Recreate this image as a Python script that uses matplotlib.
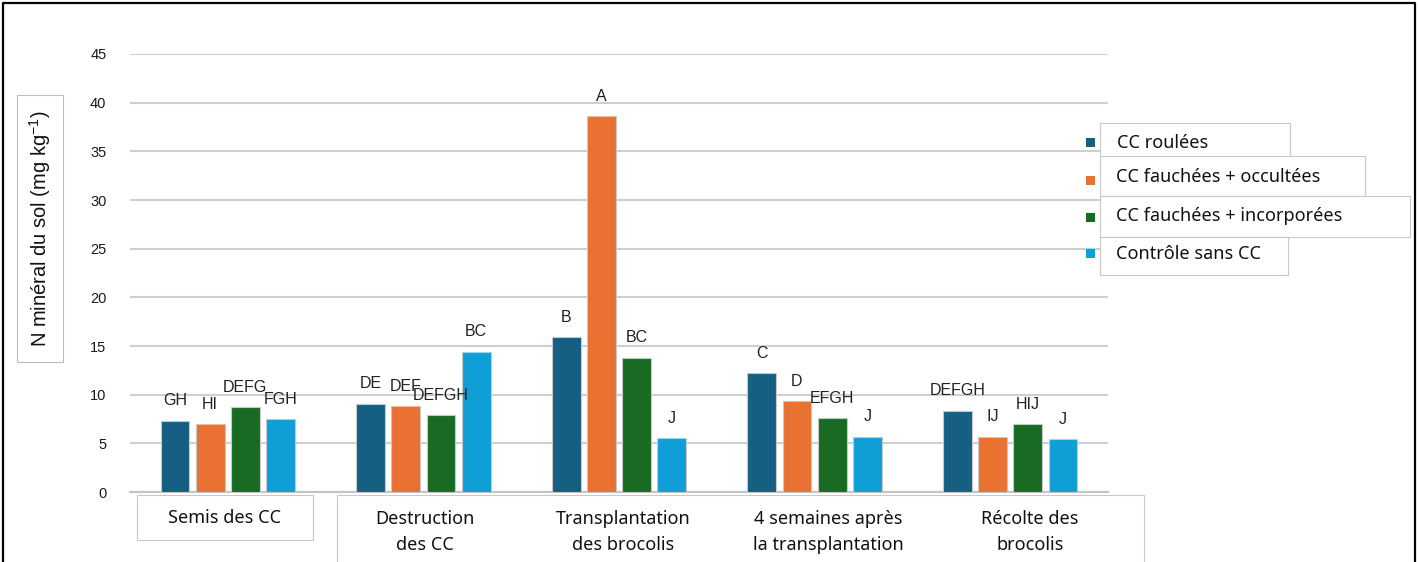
import matplotlib.pyplot as plt
from matplotlib.patches import Rectangle
import numpy as np

W, H = 1419, 562

stages = ['Semis des CC', 'Destruction\ndes CC', 'Transplantation\ndes brocolis',
          '4 semaines après\nla transplantation', 'Récolte des\nbrocolis']
series = ['CC roulées', 'CC fauchées + occultées', 'CC fauchées + incorporées', 'Contrôle sans CC']
colors = ['#156082', '#E97132', '#196B24', '#0F9ED5']

roulees = [7.3, 9.05, 15.9, 12.2, 8.35]
occultees = [6.95, 8.8, 38.6, 9.3, 5.7]
incorporees = [8.7, 7.9, 13.8, 7.6, 6.95]
controle = [7.5, 14.4, 5.55, 5.7, 5.45]

letters_roulees = ['GH', 'DE', 'B', 'C', 'DEFGH']
letters_occultees = ['HI', 'DEF', 'A', 'D', 'IJ']
letters_incorporees = ['DEFG', 'DEFGH', 'BC', 'EFGH', 'HIJ']
letters_controle = ['FGH', 'BC', 'J', 'J', 'J']

values = [roulees, occultees, incorporees, controle]
letters = [letters_roulees, letters_occultees, letters_incorporees, letters_controle]

plt.rcParams['mathtext.fontset'] = 'custom'
plt.rcParams['mathtext.rm'] = 'Liberation Sans'
plt.rcParams['mathtext.it'] = 'Liberation Sans'


def px(x, y):
    # pixel coords (top-left origin) -> figure fraction
    return x / W, 1 - y / H


fig = plt.figure(figsize=(W / 100, H / 100), dpi=100)
ax = fig.add_axes([130 / W, 1 - 492 / H, 978 / W, 438 / H])

x = np.arange(len(stages))
for i, (vals, labs) in enumerate(zip(values, letters)):
    pos = x + (i - 1.5) * 0.18
    ax.bar(pos, vals, width=0.148, color=colors[i], edgecolor='#c8c8c8', linewidth=0.8, zorder=3)
    for p, v, t in zip(pos, vals, labs):
        ax.text(p, v + 2.05, t, ha='center', va='center', fontsize=11.5,
                family='Liberation Sans', color='#222222', zorder=4)

ax.set_xlim(-0.5, 4.5)
ax.set_ylim(0, 45)
ax.set_yticks(range(0, 46, 5))
ax.set_xticks([])
ax.tick_params(axis='y', length=0, pad=17, labelsize=10.5, labelcolor='#1a1a1a')
for lab in ax.get_yticklabels():
    lab.set_family('Liberation Sans')
ax.grid(axis='y', color='#cfcfcf', linewidth=1.5, zorder=0)
for s in ['top', 'right', 'left']:
    ax.spines[s].set_visible(False)
ax.spines['bottom'].set_color('#c4c4c4')
ax.spines['bottom'].set_linewidth(1.5)

# y label with box
fig.add_artist(Rectangle(px(17, 362), 46 / W, 267 / H, transform=fig.transFigure,
                         facecolor='white', edgecolor='#bdbdbd', linewidth=0.8))
fig.text(*px(40, 229), 'N minéral du sol (mg kg$^{\\mathregular{-1}}$)', rotation=90,
         ha='center', va='center', fontsize=14.5, family='Liberation Sans', color='#111111')

# category label boxes
fig.add_artist(Rectangle(px(137, 540), 176 / W, 45 / H, transform=fig.transFigure,
                         facecolor='white', edgecolor='#c8c8c8', linewidth=0.8))
fig.add_artist(Rectangle(px(337, 575), 807 / W, 80 / H, transform=fig.transFigure,
                         facecolor='white', edgecolor='#c8c8c8', linewidth=0.8))
cat_x = [225, 425, 623, 828, 1030]
for cx, name in zip(cat_x, stages):
    fig.text(*px(cx, 532 if '\n' in name else 518), name, ha='center', va='center',
             fontsize=13, family='Noto Sans', color='#111111', linespacing=1.6)

# legend
boxes = [(1100, 123, 1290, 157), (1100, 156, 1365, 196), (1100, 196, 1410, 237), (1100, 237, 1288, 275)]
text_y = [143, 177, 216, 254]
text_x = [1117, 1116, 1116, 1116]
sq_y = [142, 180, 217, 253]
for i, name in enumerate(series):
    x0, y0, x1, y1 = boxes[i]
    fig.add_artist(Rectangle(px(x0, y1), (x1 - x0) / W, (y1 - y0) / H, transform=fig.transFigure,
                             facecolor='white', edgecolor='#c8c8c8', linewidth=0.8))
    fig.add_artist(Rectangle(px(1086, sq_y[i] + 4.5), 9 / W, 9 / H, transform=fig.transFigure,
                             facecolor=colors[i], edgecolor='none'))
    fig.text(*px(text_x[i], text_y[i]), name, ha='left', va='center', fontsize=13,
             family='Noto Sans', color='#111111')

# outer frame
fig.add_artist(plt.Line2D([3 / W, 3 / W, 1415 / W, 1415 / W], [0, 1 - 3 / H, 1 - 3 / H, 0],
                          transform=fig.transFigure, color='black', linewidth=1.6))

fig.savefig('out.png', dpi=100)
